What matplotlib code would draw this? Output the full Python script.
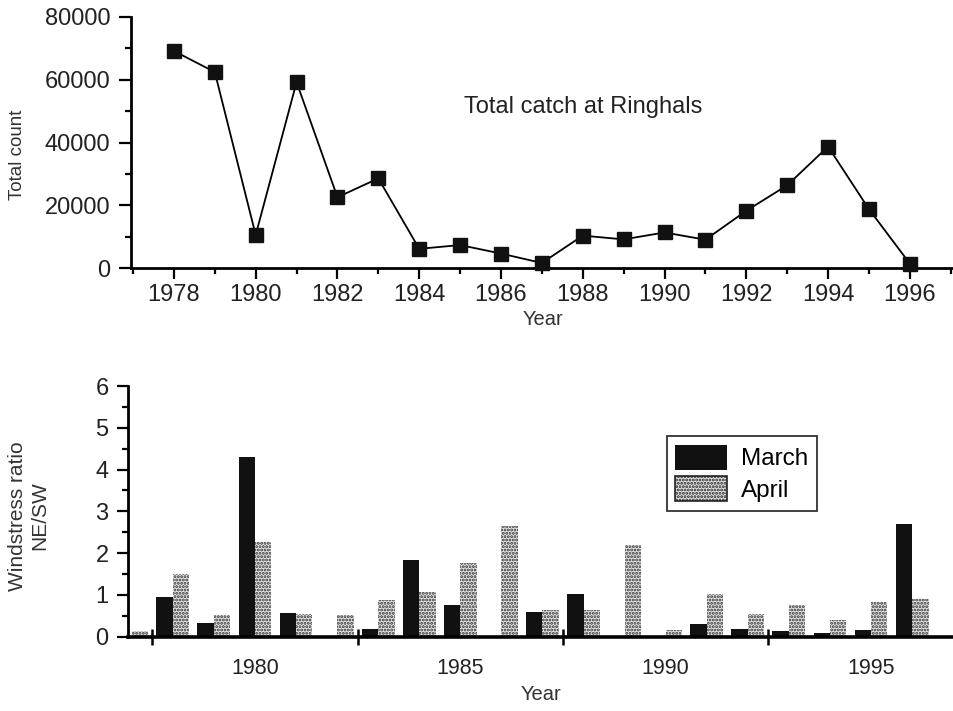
import matplotlib
matplotlib.use('Agg')
import matplotlib.pyplot as plt
from matplotlib.ticker import MultipleLocator, FixedLocator, NullFormatter
import numpy as np

plt.rcParams['font.family'] = ['Liberation Sans', 'DejaVu Sans']
plt.rcParams['hatch.linewidth'] = 1.4

# ---- data ----
years_top = list(range(1978, 1997))
total_count = [69100, 62400, 10600, 59200, 22600, 28600, 6200, 7400, 4700, 1700,
               10400, 9200, 11400, 9100, 18300, 26400, 38700, 18800, 1500]

years_bot = list(range(1977, 1997))
march = [0, 0.94, 0.33, 4.31, 0.57, 0, 0.18, 1.84, 0.77, 0,
         0.58, 1.03, 0, 0, 0.30, 0.18, 0.13, 0.09, 0.16, 2.69]
april = [0.14, 1.51, 0.52, 2.26, 0.55, 0.53, 0.87, 1.06, 1.77, 2.66,
         0.63, 0.63, 2.19, 0.15, 1.03, 0.54, 0.77, 0.41, 0.84, 0.90]
bot_labels = ['1980', '1985', '1990', '1995']
bot_label_pos = [1980, 1985, 1990, 1995]
bot_major = [1977.5, 1982.5, 1987.5, 1992.5]

fig = plt.figure(figsize=(9.54, 7.11), dpi=100)

# ---- top panel ----
ax1 = fig.add_axes([0.1373, 0.6226, 0.8627, 0.3539])
ax1.plot(years_top, total_count, color='black', lw=1.3, marker='s',
         markersize=9.5, markerfacecolor='#111111', markeredgecolor='#111111',
         clip_on=False, zorder=3)
ax1.set_xlim(1976.95, 1997.08)
ax1.set_ylim(0, 80000)
ax1.xaxis.set_major_locator(MultipleLocator(2))
ax1.xaxis.set_minor_locator(FixedLocator(list(range(1977, 1998, 2))))
ax1.yaxis.set_major_locator(MultipleLocator(20000))
ax1.yaxis.set_minor_locator(MultipleLocator(10000))
for s in ['top', 'right']:
    ax1.spines[s].set_visible(False)
for s in ['left', 'bottom']:
    ax1.spines[s].set_linewidth(2.0)
ax1.tick_params(axis='x', which='major', direction='out', length=8, width=1.6,
                labelsize=17, pad=3, labelcolor='#222222')
ax1.tick_params(axis='x', which='minor', direction='out', length=4.5, width=1.6)
ax1.tick_params(axis='y', which='major', direction='out', length=9, width=1.6,
                labelsize=17, pad=6, labelcolor='#222222')
ax1.tick_params(axis='y', which='minor', direction='out', length=4.5, width=1.6)
ax1.set_xlabel('Year', fontsize=14.5, color='#333333', labelpad=3)
ax1.text(0.405, 0.64, 'Total catch at Ringhals', transform=ax1.transAxes,
         fontsize=17, ha='left', va='center', color='#222222')
fig.text(18 / 954, 1 - 155 / 711, 'Total count', rotation=90, ha='center',
         va='center', fontsize=13.5, color='#333333')

# ---- bottom panel ----
ax2 = fig.add_axes([0.1342, 0.1045, 0.8658, 0.3526])
x = np.array(years_bot, dtype=float)
w = 0.4
ax2.bar(x - w / 2, march, width=w, color='#111111', linewidth=0, label='March')
ax2.bar(x + w / 2, april, width=w, facecolor='#e4e4e4', edgecolor='#333333',
        hatch='.....', linewidth=0, label='April')
ax2.set_xlim(1976.91, 1997.02)
ax2.set_ylim(0, 6)
ax2.xaxis.set_major_locator(FixedLocator(bot_major))
ax2.xaxis.set_major_formatter(NullFormatter())
ax2.set_xticks(bot_label_pos, bot_labels, minor=True)
ax2.yaxis.set_major_locator(MultipleLocator(1))
ax2.yaxis.set_minor_locator(MultipleLocator(0.5))
for s in ['top', 'right']:
    ax2.spines[s].set_visible(False)
ax2.spines['left'].set_linewidth(2.0)
ax2.spines['bottom'].set_linewidth(2.6)
ax2.tick_params(axis='x', which='major', direction='inout', length=11, width=1.8)
ax2.tick_params(axis='x', which='minor', length=0, labelsize=15.5, pad=15,
                labelcolor='#222222')
ax2.tick_params(axis='y', which='major', direction='out', length=8, width=1.6,
                labelsize=17, pad=6, labelcolor='#222222')
ax2.tick_params(axis='y', which='minor', direction='out', length=4.5, width=1.6)
ax2.set_xlabel('Year', fontsize=14.5, color='#333333', labelpad=5)
fig.text(29 / 954, 1 - 516 / 711, 'Windstress ratio\nNE/SW', rotation=90,
         ha='center', va='center', fontsize=15, color='#333333',
         multialignment='center', linespacing=1.2)
leg = ax2.legend(loc='upper left', bbox_to_anchor=(0.6525, 0.80), fontsize=17.5,
                 frameon=True, fancybox=False, edgecolor='black',
                 handlelength=2.1, handleheight=1.2, handletextpad=0.6,
                 labelspacing=0.25, borderpad=0.35, borderaxespad=0)
leg.get_frame().set_linewidth(1.3)
for p in leg.get_patches():
    p.set_linewidth(1.2)
leg.get_patches()[1].set_edgecolor('#222222')

fig.savefig('out.png', dpi=100)
